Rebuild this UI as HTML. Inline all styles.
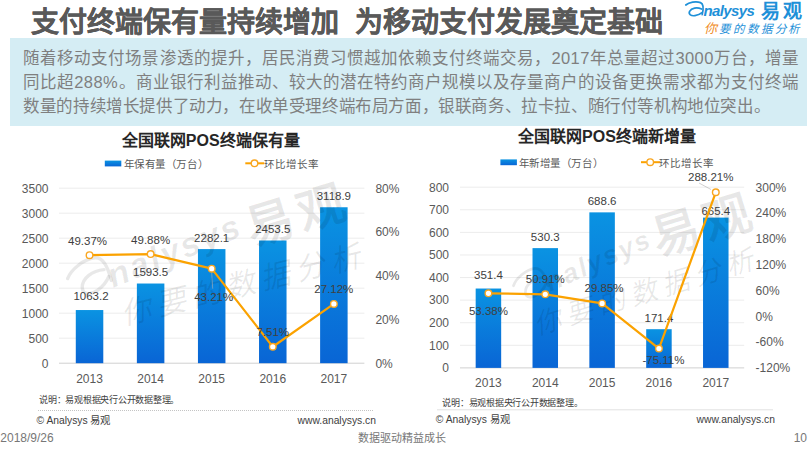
<!DOCTYPE html>
<html lang="zh-CN"><head><meta charset="utf-8">
<style>
html,body{margin:0;padding:0;width:812px;height:456px;overflow:hidden;background:#fff;font-family:"Liberation Sans",sans-serif;}
.a{position:absolute;white-space:nowrap;}
svg text{font-family:"Liberation Sans",sans-serif;}
.ax{font-size:12px;fill:#595959;}
.lb{font-size:11.5px;fill:#404040;}
.d{letter-spacing:0.4px}
.bl{left:23.2px;font-size:16.5px;line-height:20px;color:#7f7f7f;letter-spacing:-0.4px}
.jl{left:23.2px;width:775.8px;font-size:16.5px;line-height:20px;color:#7f7f7f;letter-spacing:-0.4px;text-align:justify;text-align-last:justify;white-space:normal}
</style></head><body>
<div class="a" style="left:31px;top:0px;font-size:28px;font-weight:bold;color:#595959;letter-spacing:0px;-webkit-text-stroke:0.2px #595959">支付终端保有量持续增加</div>
<div class="a" style="left:355px;top:0px;font-size:28px;font-weight:bold;color:#595959;letter-spacing:0px;-webkit-text-stroke:0.2px #595959">为移动支付发展奠定基础</div>
<div class="a" style="left:10px;top:38px;width:797px;height:87.8px;background:#d5edf4"></div>
<div class="a jl" style="top:47.8px">随着移动支付场景渗透的提升，居民消费习惯越加依赖支付终端交易，<span class="d">2017</span>年总量超过<span class="d">3000</span>万台，增量</div>
<div class="a jl" style="top:72px">同比超<span class="d">288%</span>。商业银行利益推动、较大的潜在特约商户规模以及存量商户的设备更换需求都为支付终端</div>
<div class="a bl" style="top:96.2px">数量的持续增长提供了动力，在收单受理终端布局方面，银联商务、拉卡拉、随行付等机构地位突出。</div>
<svg class="a" style="left:0;top:0" width="812" height="456" viewBox="0 0 812 456">
<defs><linearGradient id="gb" x1="0" y1="0" x2="0" y2="1"><stop offset="0" stop-color="#0a93e2"/><stop offset="1" stop-color="#0965d5"/></linearGradient></defs>
<g>
<path d="M685.8,5 C689,2.2 696,0.8 700.5,2.6 C703.8,4 703.6,9 702.2,14.6" fill="none" stroke="#1e90d8" stroke-width="1.7" stroke-linecap="round"/>
<path d="M701.6,9 C697,7 691.5,7.8 689.6,11.4 C688.2,14.4 691.2,16.2 695,15.6 C698,15.1 700.6,13.8 702,12.6" fill="none" stroke="#1e90d8" stroke-width="1.7" stroke-linecap="round"/>
<text x="703.5" y="15.6" style="font-size:15px;font-weight:bold;font-style:italic;fill:#1e90d8;letter-spacing:-0.6px">nalysys</text>
<text x="760.5" y="17.6" style="font-size:19px;font-weight:bold;fill:#1e90d8;letter-spacing:3px">易观</text>
<text x="703.5" y="32.5" style="font-size:11.5px;font-style:italic;fill:#1e90d8;letter-spacing:2.8px"><tspan fill="#f08a24" style="font-size:13px">你</tspan>要的数据分析</text>
</g>
<text x="210.7" y="145.7" text-anchor="middle" style="font-size:16px;font-weight:bold;fill:#262626">全国联网POS终端保有量</text>
<text x="607" y="141.5" text-anchor="middle" style="font-size:16px;font-weight:bold;fill:#262626">全国联网POS终端新增量</text>
<rect x="104.8" y="160.6" width="16.5" height="5.8" fill="url(#gb)"/>
<text x="123.5" y="167.5" style="font-size:10.5px;fill:#595959;letter-spacing:0.6px">年保有量（万台）</text>
<line x1="245.3" x2="264.3" y1="163.3" y2="163.3" stroke="#fba200" stroke-width="2"/>
<circle cx="254.5" cy="163.3" r="3.3" fill="#fff" stroke="#f9a620" stroke-width="1.4"/>
<text x="263.5" y="168" style="font-size:10.5px;fill:#595959;letter-spacing:1.1px">环比增长率</text>
<rect x="500.4" y="159.4" width="16.5" height="5.8" fill="url(#gb)"/>
<text x="518.5" y="167" style="font-size:10.5px;fill:#595959;letter-spacing:0.6px">年新增量（万台）</text>
<line x1="641" x2="660" y1="162.2" y2="162.2" stroke="#fba200" stroke-width="2"/>
<circle cx="650.2" cy="162.2" r="3.3" fill="#fff" stroke="#f9a620" stroke-width="1.4"/>
<text x="658.5" y="167" style="font-size:10.5px;fill:#595959;letter-spacing:1.1px">环比增长率</text>
<line x1="59" x2="364.4" y1="338.20" y2="338.20" stroke="#ececec" stroke-width="1"/>
<line x1="59" x2="364.4" y1="313.20" y2="313.20" stroke="#ececec" stroke-width="1"/>
<line x1="59" x2="364.4" y1="288.20" y2="288.20" stroke="#ececec" stroke-width="1"/>
<line x1="59" x2="364.4" y1="263.20" y2="263.20" stroke="#ececec" stroke-width="1"/>
<line x1="59" x2="364.4" y1="238.20" y2="238.20" stroke="#ececec" stroke-width="1"/>
<line x1="59" x2="364.4" y1="213.20" y2="213.20" stroke="#ececec" stroke-width="1"/>
<line x1="59" x2="364.4" y1="188.20" y2="188.20" stroke="#ececec" stroke-width="1"/>
<line x1="59" x2="364.4" y1="363.2" y2="363.2" stroke="#d0d0d0" stroke-width="1"/>
<text x="48.5" y="367.50" text-anchor="end" class="ax">0</text>
<text x="48.5" y="342.50" text-anchor="end" class="ax">500</text>
<text x="48.5" y="317.50" text-anchor="end" class="ax">1000</text>
<text x="48.5" y="292.50" text-anchor="end" class="ax">1500</text>
<text x="48.5" y="267.50" text-anchor="end" class="ax">2000</text>
<text x="48.5" y="242.50" text-anchor="end" class="ax">2500</text>
<text x="48.5" y="217.50" text-anchor="end" class="ax">3000</text>
<text x="48.5" y="192.50" text-anchor="end" class="ax">3500</text>
<text x="375.4" y="367.50" class="ax">0%</text>
<text x="375.4" y="323.75" class="ax">20%</text>
<text x="375.4" y="280.00" class="ax">40%</text>
<text x="375.4" y="236.25" class="ax">60%</text>
<text x="375.4" y="192.50" class="ax">80%</text>
<rect x="75.79" y="310.04" width="27.5" height="53.16" fill="url(#gb)"/>
<rect x="136.87" y="283.52" width="27.5" height="79.67" fill="url(#gb)"/>
<rect x="197.95" y="249.09" width="27.5" height="114.10" fill="url(#gb)"/>
<rect x="259.03" y="240.52" width="27.5" height="122.67" fill="url(#gb)"/>
<rect x="320.11" y="207.25" width="27.5" height="155.94" fill="url(#gb)"/>
<text x="89.54" y="383.20" text-anchor="middle" class="ax">2013</text>
<text x="150.62" y="383.20" text-anchor="middle" class="ax">2014</text>
<text x="211.70" y="383.20" text-anchor="middle" class="ax">2015</text>
<text x="272.78" y="383.20" text-anchor="middle" class="ax">2016</text>
<text x="333.86" y="383.20" text-anchor="middle" class="ax">2017</text>
<g fill="#000" fill-opacity="0.09" stroke="none">
<g transform="translate(0,0) translate(113,288) rotate(0) scale(1) translate(-113,-288)">
<g transform="translate(115,281) rotate(-28) scale(2.3) translate(-703.5,-15.6)" fill="none" stroke="#000" stroke-opacity="0.09" stroke-width="1.5" stroke-linecap="round">
<path d="M685.8,5 C689,2.2 696,0.8 700.5,2.6 C703.8,4 703.6,9 702.2,14.6"/>
<path d="M701.6,9 C697,7 691.5,7.8 689.6,11.4 C688.2,14.4 691.2,16.2 695,15.6 C698,15.1 700.6,13.8 702,12.6"/>
</g>
<text transform="translate(113,288) rotate(-22)" style="font-size:34px;font-weight:bold;font-style:italic;letter-spacing:2.5px">nalysys</text>
</g>
<text transform="translate(0,0) translate(252,246) rotate(0) scale(1) translate(-252,-246) translate(252,246) rotate(-17)" style="font-size:48px;font-weight:bold;letter-spacing:5px">易观</text>
<text transform="translate(0,0) translate(123.7,325) rotate(0) scale(1) translate(-123.7,-325) translate(123.7,325) rotate(-14)" style="font-size:30px;font-style:italic;letter-spacing:6px">你要的数据分析</text>
</g>
<text x="91.04" y="300.34" text-anchor="middle" class="lb">1063.2</text>
<text x="150.62" y="276.32" text-anchor="middle" class="lb">1593.5</text>
<text x="211.70" y="241.90" text-anchor="middle" class="lb">2282.1</text>
<text x="272.78" y="233.32" text-anchor="middle" class="lb">2453.5</text>
<text x="333.86" y="200.06" text-anchor="middle" class="lb">3118.9</text>
<polyline fill="none" stroke="#fba200" stroke-width="2.2" stroke-linejoin="round" points="89.54,255.20 150.62,254.09 211.70,268.68 272.78,346.77 333.86,303.88"/>
<line x1="211.70" x2="212.70" y1="272.68" y2="288.68" stroke="#b0b0b0" stroke-width="0.6"/>
<circle cx="89.54" cy="255.20" r="3.3" fill="#fff" stroke="#f9a620" stroke-width="1.4"/>
<circle cx="150.62" cy="254.09" r="3.3" fill="#fff" stroke="#f9a620" stroke-width="1.4"/>
<circle cx="211.70" cy="268.68" r="3.3" fill="#fff" stroke="#f9a620" stroke-width="1.4"/>
<circle cx="272.78" cy="346.77" r="3.3" fill="#fff" stroke="#f9a620" stroke-width="1.4"/>
<circle cx="333.86" cy="303.88" r="3.3" fill="#fff" stroke="#f9a620" stroke-width="1.4"/>
<text x="87.54" y="245.00" text-anchor="middle" class="lb">49.37%</text>
<text x="150.62" y="243.89" text-anchor="middle" class="lb">49.88%</text>
<text x="213.70" y="301.48" text-anchor="middle" class="lb">43.21%</text>
<text x="272.78" y="335.57" text-anchor="middle" class="lb">7.51%</text>
<text x="333.86" y="292.68" text-anchor="middle" class="lb">27.12%</text>
<line x1="460" x2="744.2" y1="345.31" y2="345.31" stroke="#ececec" stroke-width="1"/>
<line x1="460" x2="744.2" y1="322.72" y2="322.72" stroke="#ececec" stroke-width="1"/>
<line x1="460" x2="744.2" y1="300.14" y2="300.14" stroke="#ececec" stroke-width="1"/>
<line x1="460" x2="744.2" y1="277.55" y2="277.55" stroke="#ececec" stroke-width="1"/>
<line x1="460" x2="744.2" y1="254.96" y2="254.96" stroke="#ececec" stroke-width="1"/>
<line x1="460" x2="744.2" y1="232.38" y2="232.38" stroke="#ececec" stroke-width="1"/>
<line x1="460" x2="744.2" y1="209.79" y2="209.79" stroke="#ececec" stroke-width="1"/>
<line x1="460" x2="744.2" y1="187.20" y2="187.20" stroke="#ececec" stroke-width="1"/>
<line x1="460" x2="744.2" y1="367.9" y2="367.9" stroke="#d0d0d0" stroke-width="1"/>
<text x="449" y="372.20" text-anchor="end" class="ax">0</text>
<text x="449" y="349.61" text-anchor="end" class="ax">100</text>
<text x="449" y="327.02" text-anchor="end" class="ax">200</text>
<text x="449" y="304.44" text-anchor="end" class="ax">300</text>
<text x="449" y="281.85" text-anchor="end" class="ax">400</text>
<text x="449" y="259.26" text-anchor="end" class="ax">500</text>
<text x="449" y="236.68" text-anchor="end" class="ax">600</text>
<text x="449" y="214.09" text-anchor="end" class="ax">700</text>
<text x="449" y="191.50" text-anchor="end" class="ax">800</text>
<text x="755.6" y="372.20" class="ax">-120%</text>
<text x="755.6" y="346.39" class="ax">-60%</text>
<text x="755.6" y="320.57" class="ax">0%</text>
<text x="755.6" y="294.76" class="ax">60%</text>
<text x="755.6" y="268.94" class="ax">120%</text>
<text x="755.6" y="243.13" class="ax">180%</text>
<text x="755.6" y="217.31" class="ax">240%</text>
<text x="755.6" y="191.50" class="ax">300%</text>
<rect x="475.67" y="288.53" width="25.5" height="79.37" fill="url(#gb)"/>
<rect x="532.51" y="248.12" width="25.5" height="119.78" fill="url(#gb)"/>
<rect x="589.35" y="212.36" width="25.5" height="155.54" fill="url(#gb)"/>
<rect x="646.19" y="329.19" width="25.5" height="38.71" fill="url(#gb)"/>
<rect x="703.03" y="217.60" width="25.5" height="150.30" fill="url(#gb)"/>
<text x="488.42" y="386.90" text-anchor="middle" class="ax">2013</text>
<text x="545.26" y="386.90" text-anchor="middle" class="ax">2014</text>
<text x="602.10" y="386.90" text-anchor="middle" class="ax">2015</text>
<text x="658.94" y="386.90" text-anchor="middle" class="ax">2016</text>
<text x="715.78" y="386.90" text-anchor="middle" class="ax">2017</text>
<g fill="#000" fill-opacity="0.09" stroke="none">
<g transform="translate(437,4) translate(113,288) rotate(-2) scale(0.8) translate(-113,-288)">
<g transform="translate(115,281) rotate(-28) scale(2.3) translate(-703.5,-15.6)" fill="none" stroke="#000" stroke-opacity="0.09" stroke-width="1.5" stroke-linecap="round">
<path d="M685.8,5 C689,2.2 696,0.8 700.5,2.6 C703.8,4 703.6,9 702.2,14.6"/>
<path d="M701.6,9 C697,7 691.5,7.8 689.6,11.4 C688.2,14.4 691.2,16.2 695,15.6 C698,15.1 700.6,13.8 702,12.6"/>
</g>
<text transform="translate(113,288) rotate(-22)" style="font-size:34px;font-weight:bold;font-style:italic;letter-spacing:2.5px">nalysys</text>
</g>
<text transform="translate(406,10) translate(252,246) rotate(0) scale(1) translate(-252,-246) translate(252,246) rotate(-17)" style="font-size:48px;font-weight:bold;letter-spacing:5px">易观</text>
<text transform="translate(413,10) translate(123.7,325) rotate(-3) scale(0.92) translate(-123.7,-325) translate(123.7,325) rotate(-14)" style="font-size:30px;font-style:italic;letter-spacing:6px">你要的数据分析</text>
</g>
<text x="488.42" y="278.83" text-anchor="middle" class="lb">351.4</text>
<text x="545.26" y="240.92" text-anchor="middle" class="lb">530.3</text>
<text x="602.10" y="205.16" text-anchor="middle" class="lb">688.6</text>
<text x="658.94" y="321.99" text-anchor="middle" class="lb">171.4</text>
<text x="715.78" y="214.90" text-anchor="middle" class="lb">665.4</text>
<polyline fill="none" stroke="#fba200" stroke-width="2.2" stroke-linejoin="round" points="488.42,293.31 545.26,294.37 602.10,303.43 658.94,348.59 715.78,192.27"/>
<circle cx="488.42" cy="293.31" r="3.3" fill="#fff" stroke="#f9a620" stroke-width="1.4"/>
<circle cx="545.26" cy="294.37" r="3.3" fill="#fff" stroke="#f9a620" stroke-width="1.4"/>
<circle cx="602.10" cy="303.43" r="3.3" fill="#fff" stroke="#f9a620" stroke-width="1.4"/>
<circle cx="658.94" cy="348.59" r="3.3" fill="#fff" stroke="#f9a620" stroke-width="1.4"/>
<circle cx="715.78" cy="192.27" r="3.3" fill="#fff" stroke="#f9a620" stroke-width="1.4"/>
<text x="488.42" y="315.11" text-anchor="middle" class="lb">53.38%</text>
<text x="545.26" y="283.17" text-anchor="middle" class="lb">50.91%</text>
<text x="604.10" y="292.23" text-anchor="middle" class="lb">29.85%</text>
<text x="663.44" y="364.39" text-anchor="middle" class="lb">-75.11%</text>
<text x="710.78" y="181.07" text-anchor="middle" class="lb">288.21%</text>
<line x1="699" y1="183" x2="711" y2="189.5" stroke="#b0b0b0" stroke-width="0.6"/>
<text x="39" y="402.5" style="font-size:9px;fill:#404040;letter-spacing:-0.25px">说明：易观根据央行公开数据整理。</text>
<text x="442.4" y="405.5" style="font-size:9px;fill:#404040;letter-spacing:-0.25px">说明：易观根据央行公开数据整理。</text>
<line x1="38" x2="374" y1="410.5" y2="410.5" stroke="#c4c4c4" stroke-width="1" stroke-dasharray="1,1"/>
<line x1="437.5" x2="773.5" y1="409.8" y2="409.8" stroke="#c4c4c4" stroke-width="1" stroke-dasharray="1,1"/>
<text x="36.5" y="424.3" style="font-size:10.3px;fill:#404040">© Analysys 易观</text>
<text x="376" y="424.3" text-anchor="end" style="font-size:10.3px;fill:#404040">www.analysys.cn</text>
<text x="435.8" y="423.3" style="font-size:10.3px;fill:#404040">© Analysys 易观</text>
<text x="775" y="423.3" text-anchor="end" style="font-size:10.3px;fill:#404040">www.analysys.cn</text>
<text x="0.3" y="441.6" style="font-size:12px;fill:#777">2018/9/26</text>
<text x="358.3" y="441.8" style="font-size:11px;fill:#777">数据驱动精益成长</text>
<text x="807" y="441.6" text-anchor="end" style="font-size:12px;fill:#777">10</text>
</svg>
</body></html>
